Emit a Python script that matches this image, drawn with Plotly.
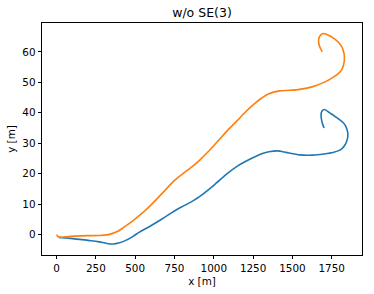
import plotly.graph_objects as go

title_text = "w/o SE(3)"
x_label = "x [m]"
y_label = "y [m]"

x_ticks = [0, 250, 500, 750, 1000, 1250, 1500, 1750]
y_ticks = [0, 10, 20, 30, 40, 50, 60]

x_orange = [0, 8, 20, 60, 115, 200, 272, 320, 357, 390, 420, 470, 506, 550, 590, 640, 700, 750, 800, 850,
            909, 1000, 1089, 1150, 1200, 1250, 1300, 1350, 1418, 1480, 1546, 1630, 1700, 1737,
            1790, 1815, 1830, 1828, 1811, 1770, 1716, 1690, 1672, 1666, 1673, 1690]
y_orange = [0, -0.6, -0.9, -0.7, -0.5, -0.35, -0.3, -0.1, 0.4, 1.1, 2.1, 3.9, 5.4, 7.3, 9.2, 11.8, 15.1, 17.8, 19.9, 21.8,
            24.4, 29.2, 34.3, 37.5, 40.2, 42.6, 44.7, 46.3, 47.2, 47.4, 47.7, 48.6, 50, 51,
            52.8, 54.3, 57, 59.5, 62, 64.2, 65.8, 66, 65, 63.5, 61.8, 60]

x_blue = [15, 60, 115, 221, 272, 320, 360, 400, 440, 484, 530, 590, 660, 718, 760, 830, 909, 1000, 1079, 1150,
          1238, 1300, 1350, 1408, 1460, 1546, 1630, 1700, 1758, 1810, 1835, 1850, 1852, 1840,
          1822, 1780, 1737, 1705, 1688, 1682, 1688, 1701]
y_blue = [-0.9, -1.1, -1.4, -2, -2.4, -2.9, -3.1, -2.7, -1.9, -0.65, 0.9, 2.6, 4.8, 6.7, 8.1, 10, 12.5, 16.2, 19.8, 22.5,
          25, 26.5, 27.2, 27.5, 27, 26.2, 26.1, 26.5, 27, 28, 29.5, 31.5, 33.5, 35.5,
          36.8, 38.5, 40, 41.1, 40.6, 39, 37, 35]

fig = go.Figure()
fig.add_trace(go.Scatter(x=x_blue, y=y_blue, mode="lines",
                         line=dict(color="#1f77b4", width=1.6, shape="spline", smoothing=0.6),
                         showlegend=False))
fig.add_trace(go.Scatter(x=x_orange, y=y_orange, mode="lines",
                         line=dict(color="#ff7f0e", width=1.6, shape="spline", smoothing=0.6),
                         showlegend=False))

axis_common = dict(showgrid=False, zeroline=False, showline=True, linecolor="black", linewidth=0.8,
                   mirror=True, ticks="outside", ticklen=3.5, tickwidth=0.8, tickcolor="black",
                   automargin=False,
                   tickfont=dict(family="DejaVu Sans", size=10.4, color="black"))

fig.update_layout(
    width=374, height=294, autosize=False,
    margin=dict(l=42.3, r=11.7, t=23.3, b=39),
    paper_bgcolor="white", plot_bgcolor="white",
    font=dict(family="DejaVu Sans", color="black"),
    title=dict(text=title_text, x=0.5, xanchor="center", xref="paper", y=1 - 13 / 294, yanchor="middle",
               font=dict(family="DejaVu Sans", size=12.5, color="black")),
    xaxis=dict(range=[-92.5, 1942.5], tickvals=x_ticks,
               title=dict(text=x_label, standoff=4, font=dict(family="DejaVu Sans", size=10.4, color="black")),
               **axis_common),
    yaxis=dict(range=[-6.7, 69.5], tickvals=y_ticks,
               title=dict(text=y_label, standoff=4, font=dict(family="DejaVu Sans", size=10.4, color="black")),
               **axis_common),
)

fig.write_html("out.html", config={"displayModeBar": False},
               post_script="document.body.style.margin='0';document.body.style.overflow='hidden';")
